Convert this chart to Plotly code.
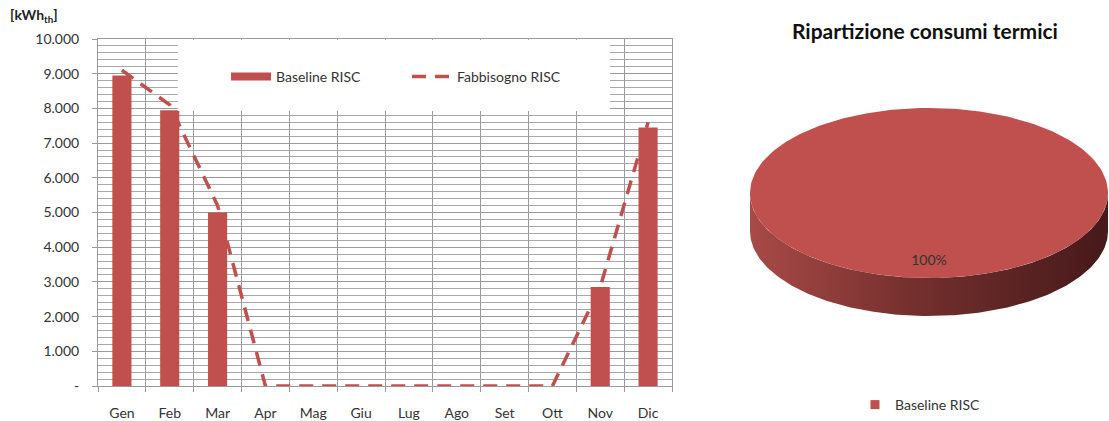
import numpy as np
import plotly.graph_objects as go

# ---------------- data ----------------
months = ["Gen", "Feb", "Mar", "Apr", "Mag", "Giu", "Lug", "Ago", "Set", "Ott", "Nov", "Dic"]
baseline_risc = [8950, 7950, 5000, 0, 0, 0, 0, 0, 0, 0, 2850, 7450]
fabbisogno_risc = [9100, 8100, 5200, 0, 0, 0, 0, 0, 0, 0, 2850, 7600]
y_tickvals = [0, 1000, 2000, 3000, 4000, 5000, 6000, 7000, 8000, 9000, 10000]
y_ticktext = ["-", "1.000", "2.000", "3.000", "4.000", "5.000", "6.000", "7.000", "8.000", "9.000", "10.000"]
pie_labels = ["Baseline RISC"]
pie_values = [100]

# ---------------- style ----------------
W, H = 1109, 421
RED = "#C0504D"
FONT = "Lato"
GRID = "#9a9a9a"
TXT = "#333333"


def pxx(x):
    return x / W


def pxy(y):
    return 1 - y / H


fig = go.Figure()

fig.add_trace(go.Bar(
    x=months, y=baseline_risc, name="Baseline RISC",
    marker=dict(color=RED, line=dict(width=0)),
    xaxis="x", yaxis="y", showlegend=False,
))
# legend entry (wide bar swatch, as in the original)
fig.add_trace(go.Scatter(
    x=[None], y=[None], name="Baseline RISC", mode="lines",
    line=dict(color=RED, width=8), xaxis="x", yaxis="y", legend="legend",
))
fig.add_trace(go.Scatter(
    x=months, y=fabbisogno_risc, name="Fabbisogno RISC", mode="lines",
    line=dict(color=RED, width=3.5, dash="14px,9px"),
    xaxis="x", yaxis="y", legend="legend",
))

# white legend background box (covers the gridlines, overlay axes in [0,1])
fig.add_trace(go.Scatter(
    x=[0.139, 0.892, 0.892, 0.139, 0.139], y=[0.7925, 0.7925, 0.998, 0.998, 0.7925],
    mode="lines", fill="toself", fillcolor="white", line=dict(width=0, color="white"),
    xaxis="x3", yaxis="y3", showlegend=False, hoverinfo="skip",
))

# ---------------- 3D-looking pie (ellipse) ----------------
cx, cy, a, b, depth = 929.0, 193.0, 179.0, 85.0, 38.0
total = float(sum(pie_values))
start = 0.0
for lab, val in zip(pie_labels, pie_values):
    share = val / total
    th0, th1 = start, start + 2 * np.pi * share
    th = np.linspace(th0, th1, 241)
    r0, r1 = max(th0, np.pi / 2), min(th1, 3 * np.pi / 2)
    if r1 > r0:
        tr = np.linspace(r0, r1, 181)
        xs = cx + a * np.sin(tr)
        ys = cy - b * np.cos(tr)
        sx = np.concatenate([xs, xs[::-1]])
        sy = np.concatenate([ys, ys[::-1] + depth])
        fig.add_trace(go.Scatter(
            x=sx, y=sy, mode="lines", fill="toself", line=dict(width=0, color="#6b2a28"),
            fillgradient=dict(type="horizontal",
                              colorscale=[[0, "#a84a47"], [0.45, "#74302e"], [1, "#46191a"]]),
            xaxis="x2", yaxis="y2", showlegend=False, hoverinfo="skip",
        ))
    px = cx + a * np.sin(th)
    py = cy - b * np.cos(th)
    if share < 1:
        px = np.concatenate([[cx], px, [cx]])
        py = np.concatenate([[cy], py, [cy]])
    fig.add_trace(go.Scatter(
        x=px, y=py, mode="lines", fill="toself", fillcolor=RED,
        line=dict(width=0, color=RED), name=lab,
        xaxis="x2", yaxis="y2", showlegend=False, hoverinfo="skip",
    ))
    # legend entry (small square swatch)
    fig.add_trace(go.Scatter(
        x=[None], y=[None], mode="markers", name=lab,
        marker=dict(symbol="square", size=9, color=RED),
        xaxis="x2", yaxis="y2", legend="legend2",
    ))
    mid = (th0 + th1) / 2
    fig.add_trace(go.Scatter(
        x=[cx + 0.8 * a * np.sin(mid)], y=[cy - 0.8 * b * np.cos(mid)],
        mode="text", text=[f"{share * 100:.0f}%"],
        textfont=dict(family=FONT, size=14, color=TXT),
        xaxis="x2", yaxis="y2", showlegend=False, hoverinfo="skip",
    ))
    start = th1

# ---------------- layout ----------------
fig.update_layout(
    width=W, height=H, margin=dict(l=0, r=0, t=0, b=0, autoexpand=False),
    paper_bgcolor="white", plot_bgcolor="white",
    font=dict(family=FONT, size=13, color=TXT),
    bargap=0.6,
    xaxis=dict(
        domain=[pxx(98), pxx(672)], type="category", tickson="boundaries",
        ticks="outside", ticklen=5, tickcolor=GRID, tickwidth=1,
        showgrid=True, gridcolor=GRID, gridwidth=1,
        showline=True, linecolor=GRID, linewidth=1, mirror=True,
        tickfont=dict(family=FONT, size=14, color=TXT), ticklabelstandoff=14,
        fixedrange=True, automargin=False,
    ),
    yaxis=dict(
        domain=[pxy(386), pxy(39)], range=[0, 10000],
        tickvals=y_tickvals, ticktext=y_ticktext,
        ticks="outside", ticklen=5, tickcolor=GRID,
        showgrid=True, gridcolor=GRID, gridwidth=1,
        minor=dict(dtick=200, showgrid=True, gridcolor="#a8a8a8", gridwidth=1, ticks=""),
        showline=True, linecolor=GRID, linewidth=1, mirror=True,
        zeroline=False,
        tickfont=dict(family=FONT, size=14, color=TXT), ticklabelstandoff=10,
        fixedrange=True, automargin=False,
    ),
    xaxis3=dict(overlaying="x", range=[0, 1], visible=False, fixedrange=True),
    yaxis3=dict(overlaying="y", range=[0, 1], visible=False, fixedrange=True),
    xaxis2=dict(domain=[pxx(740), 1.0], range=[740, W], visible=False, fixedrange=True),
    yaxis2=dict(domain=[pxy(340), pxy(80)], range=[340, 80], visible=False, fixedrange=True),
    legend=dict(
        orientation="h", x=pxx(226), xanchor="left", y=pxy(77), yanchor="middle",
        bgcolor="rgba(0,0,0,0)", font=dict(family=FONT, size=14, color=TXT),
        entrywidth=126, entrywidthmode="pixels", itemwidth=40, traceorder="normal",
    ),
    legend2=dict(
        orientation="h", x=pxx(855), xanchor="left", y=0.0, yanchor="bottom",
        bgcolor="rgba(0,0,0,0)", font=dict(family=FONT, size=14, color=TXT), itemwidth=30,
    ),
    annotations=[
        dict(text="<b>[kWh<sub>th</sub>]</b>", x=pxx(8), y=pxy(15), xref="paper", yref="paper",
             xanchor="left", yanchor="middle", showarrow=False,
             font=dict(family=FONT, size=14, color="#222")),
        dict(text="<b>Ripartizione consumi termici</b>", x=pxx(925), y=pxy(30),
             xref="paper", yref="paper", xanchor="center", yanchor="middle", showarrow=False,
             font=dict(family=FONT, size=21, color="#111")),
    ],
)

fig.write_html(
    "out.html",
    config={"displayModeBar": False},
    post_script="document.body.style.margin='0';document.body.style.overflow='hidden';",
)
